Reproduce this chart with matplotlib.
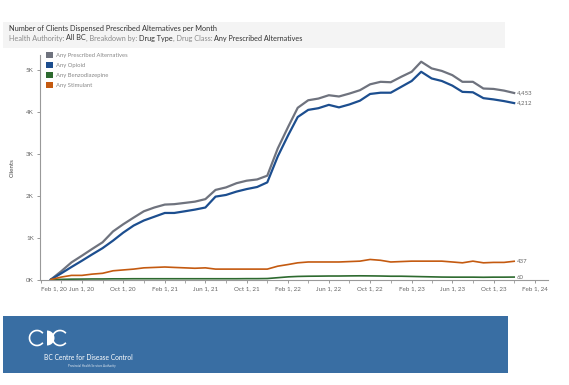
import matplotlib
matplotlib.use("Agg")
import matplotlib.pyplot as plt
import matplotlib.dates as mdates
from matplotlib.patches import Rectangle, Arc, Polygon
from matplotlib.text import Annotation
import numpy as np
import datetime as dt

# ---------------- data ----------------
months = [dt.date(2020 + (m - 1) // 12, (m - 1) % 12 + 1, 1) for m in range(3, 3 + 46)]

any_alt = [0.00, 0.20, 0.41, 0.57, 0.73, 0.89, 1.15, 1.32, 1.48, 1.63, 1.72, 1.79,
           1.80, 1.83, 1.86, 1.92, 2.14, 2.20, 2.30, 2.36, 2.39, 2.48, 3.13, 3.65,
           4.10, 4.28, 4.32, 4.40, 4.37, 4.44, 4.52, 4.66, 4.72, 4.71, 4.84, 4.96,
           5.20, 5.04, 4.98, 4.88, 4.72, 4.72, 4.56, 4.55, 4.51, 4.453]
any_opioid = [0.00, 0.15, 0.30, 0.45, 0.60, 0.75, 0.93, 1.12, 1.29, 1.41, 1.50, 1.59,
              1.59, 1.63, 1.67, 1.72, 1.98, 2.02, 2.10, 2.16, 2.21, 2.32, 2.94, 3.45,
              3.88, 4.05, 4.09, 4.17, 4.11, 4.18, 4.27, 4.43, 4.46, 4.46, 4.60, 4.74,
              4.96, 4.80, 4.74, 4.63, 4.48, 4.47, 4.33, 4.30, 4.26, 4.212]
any_benzo = [0.000, 0.005, 0.010, 0.012, 0.015, 0.015, 0.018, 0.018, 0.020, 0.020, 0.020, 0.020,
             0.020, 0.020, 0.020, 0.020, 0.020, 0.020, 0.020, 0.022, 0.022, 0.025, 0.045, 0.065,
             0.075, 0.080, 0.082, 0.085, 0.085, 0.088, 0.090, 0.088, 0.085, 0.080, 0.080, 0.075,
             0.070, 0.065, 0.060, 0.058, 0.058, 0.058, 0.055, 0.058, 0.058, 0.060]
any_stim = [0.00, 0.06, 0.10, 0.10, 0.13, 0.15, 0.21, 0.23, 0.25, 0.28, 0.29, 0.30,
            0.29, 0.28, 0.27, 0.28, 0.25, 0.25, 0.25, 0.25, 0.25, 0.25, 0.32, 0.36,
            0.40, 0.42, 0.42, 0.42, 0.42, 0.43, 0.44, 0.48, 0.46, 0.42, 0.43, 0.44,
            0.44, 0.44, 0.44, 0.42, 0.40, 0.44, 0.40, 0.41, 0.41, 0.437]

series_names = ["Any Prescribed Alternatives", "Any Opioid", "Any Benzodiazepine", "Any Stimulant"]
end_labels = ["4,453", "4,212", "60", "437"]
y_ticks = [0, 1, 2, 3, 4, 5]
y_tick_labels = ["0K", "1K", "2K", "3K", "4K", "5K"]
x_tick_dates = [dt.date(2020 + (m // 12), m % 12 + 1, 1) for m in range(1, 50, 4)]

colors = ["#6f737e", "#1c4e8f", "#2d6a2f", "#c45a10"]
widths = [1.6, 1.6, 1.2, 1.2]

W, H = 569, 385
plt.rcParams["font.family"] = ["Lato", "DejaVu Sans"]
fig = plt.figure(figsize=(W / 100, H / 100), dpi=100)
fig.patch.set_facecolor("white")


def fx(px):
    return px / W


def fy(py):
    return 1 - py / H


# header band
fig.patches.append(Rectangle((fx(3), fy(48)), fx(502), (48 - 22) / H,
                             transform=fig.transFigure, facecolor="#f4f4f4",
                             edgecolor="none", zorder=0))
fig.text(fx(9), fy(28), "Number of Clients Dispensed Prescribed Alternatives per Month",
         fontsize=5.3, color="#333333", va="center", ha="left")

parts = [("Health Authority: ", "#8a8a8a"), ("All BC", "#333333"),
         (", Breakdown by: ", "#8a8a8a"), ("Drug Type", "#333333"),
         (", Drug Class: ", "#8a8a8a"), ("Any Prescribed Alternatives", "#333333")]
prev = fig.text(fx(9), fy(38), parts[0][0], fontsize=5.2, color=parts[0][1],
                va="center", ha="left")
for txt, col in parts[1:]:
    prev = fig.add_artist(Annotation(txt, xy=(1, 0.5), xycoords=prev, va="center",
                                     ha="left", fontsize=5.2, color=col))

# axes
ax = fig.add_axes([fx(40), fy(280), fx(548 - 40), (280 - 55) / H])
for vals, col, lw in zip([any_alt, any_opioid, any_benzo, any_stim], colors, widths):
    ax.plot(months, vals, color=col, lw=lw, solid_joinstyle="round")

for vals, lab in zip([any_alt, any_opioid, any_benzo, any_stim], end_labels):
    ax.annotate(lab, xy=(mdates.date2num(months[-1]), vals[-1]), xytext=(2, 0),
                textcoords="offset points", fontsize=4.3, color="#666666",
                va="center", ha="left")

ax.set_xlim(mdates.date2num(dt.date(2020, 1, 29)), mdates.date2num(dt.date(2024, 3, 10)))
ax.set_ylim(-0.01, 5.36)
ax.set_yticks(y_ticks)
ax.set_yticklabels(y_tick_labels)
ax.set_xticks([mdates.date2num(d) for d in x_tick_dates])
xl = ax.set_xticklabels([f"{d.strftime('%b')} 1, {d.strftime('%y')}" for d in x_tick_dates])
xl[0].set_ha("left")
minor = [mdates.date2num(dt.date(2020 + (m // 12), m % 12 + 1, 1)) for m in range(3, 50, 4)]
ax.set_xticks(minor, minor=True)
ax.tick_params(axis="both", labelsize=4.5, labelcolor="#666666", color="#999999",
               length=2.5, width=0.7, pad=2)
ax.tick_params(axis="x", which="minor", length=2, width=0.6, color="#999999")
for s in ["top", "right"]:
    ax.spines[s].set_visible(False)
for s in ["left", "bottom"]:
    ax.spines[s].set_color("#999999")
    ax.spines[s].set_linewidth(0.8)
ax.set_ylabel("Clients", fontsize=4.5, color="#444444", labelpad=8)

# legend
for i, (name, col) in enumerate(zip(series_names, colors)):
    yy = 55 + 10 * i
    fig.patches.append(Rectangle((fx(46), fy(yy + 3)), fx(6.5), 6.5 / H,
                                 transform=fig.transFigure, facecolor=col,
                                 edgecolor="none"))
    fig.text(fx(56), fy(yy), name, fontsize=4.2, color="#888888", va="center", ha="left")

# footer
fig.patches.append(Rectangle((fx(3), fy(373)), fx(505), (373 - 316) / H,
                             transform=fig.transFigure, facecolor="#396ea3",
                             edgecolor="none", zorder=0))
# CDC logo approximation
fig.patches.append(Arc((fx(37), fy(338)), fx(15), 15 / H, theta1=50, theta2=310,
                       transform=fig.transFigure, color="white", lw=1.2))
ang = np.linspace(-np.pi / 2, np.pi / 2, 40)
cx, cy, r = 47.0, 338.0, 7.5
pts = [(fx(cx + r * np.cos(a)), fy(cy - r * np.sin(a))) for a in ang]
pts += [(fx(cx), fy(cy - r)), (fx(cx), fy(cy + r))]
fig.patches.append(Polygon(pts, closed=True, transform=fig.transFigure,
                           facecolor="white", edgecolor="none"))
fig.patches.append(Arc((fx(60), fy(338)), fx(15), 15 / H, theta1=50, theta2=310,
                       transform=fig.transFigure, color="white", lw=1.2))
fig.text(fx(44), fy(358), "BC Centre for Disease Control", fontsize=4.8,
         color="white", va="center", ha="left")
fig.text(fx(68), fy(366), "Provincial Health Services Authority", fontsize=2.2,
         color="#dde6f0", va="center", ha="left")

fig.savefig("out.png", dpi=100, facecolor="white")
